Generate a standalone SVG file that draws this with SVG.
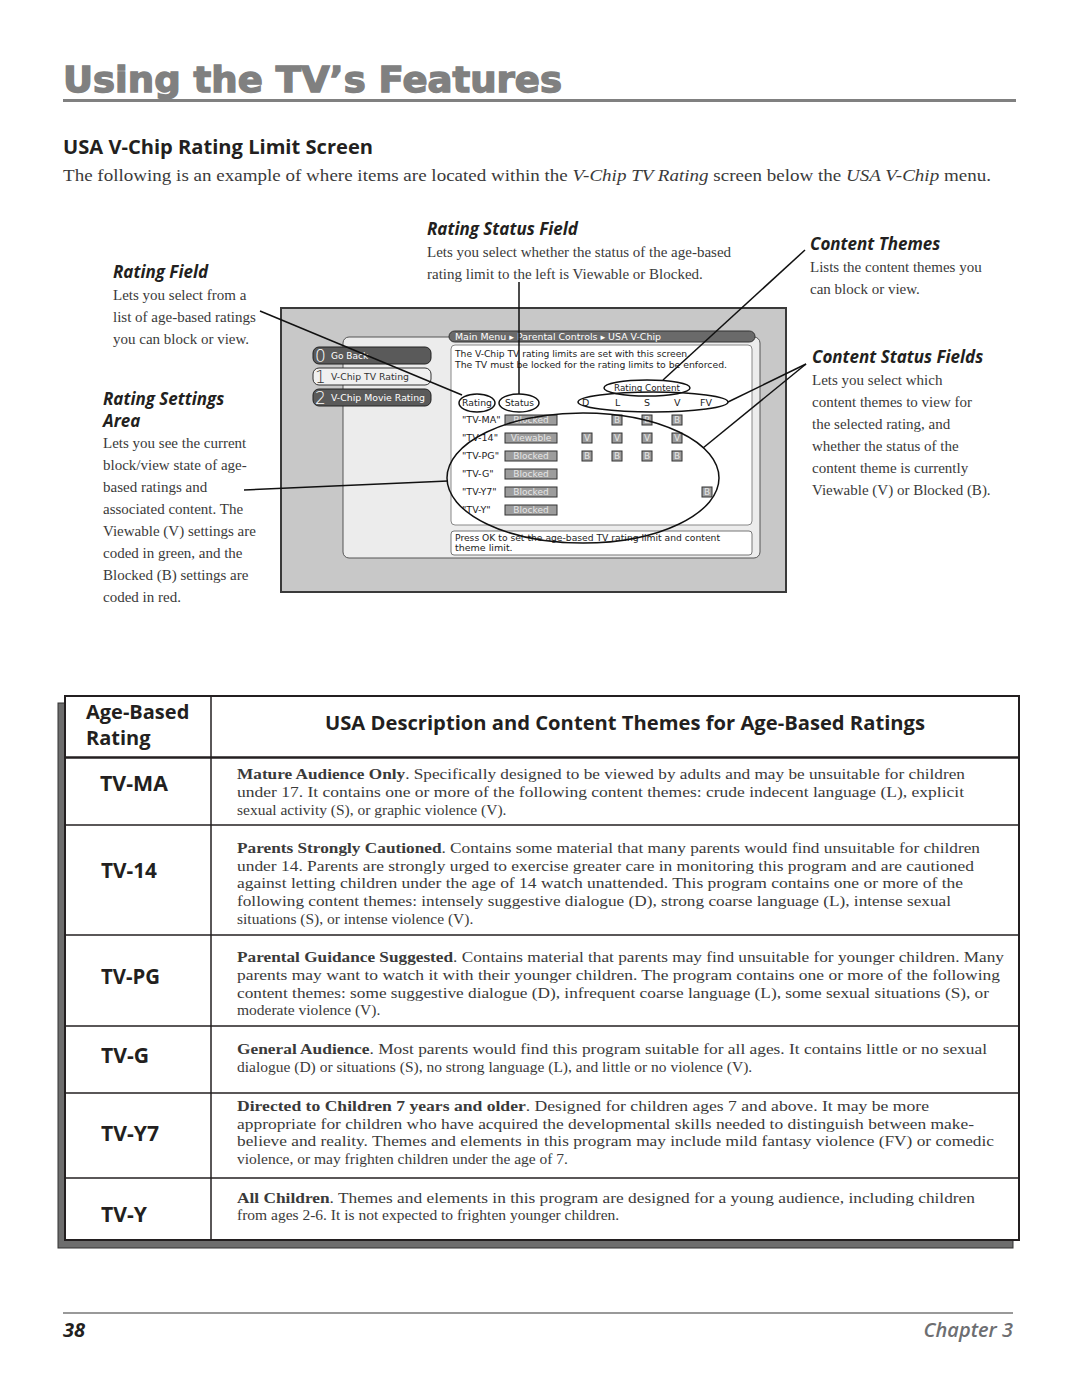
<svg xmlns="http://www.w3.org/2000/svg" width="1080" height="1397" viewBox="0 0 1080 1397">
<style>
.serif{font-family:"Liberation Serif","Times New Roman",serif;fill:#3a3a3a}
.ann{font-size:15px}
.annh{font-family:"Open Sans","Liberation Sans",sans-serif;font-weight:700;font-style:italic;font-size:17px;fill:#231f20}
.desc{font-size:15.5px}
.scr{font-family:"DejaVu Sans","Liberation Sans",sans-serif;font-size:9.5px;fill:#222}
.btn{font-family:"DejaVu Sans","Liberation Sans",sans-serif;font-size:9px;fill:#fff}
.dig{font-family:"DejaVu Sans","Liberation Sans",sans-serif;font-weight:300;font-size:17px;fill:#fff}
.st{fill:#9c9c9c;stroke:#333;stroke-width:1}
.stt{font-family:"DejaVu Sans","Liberation Sans",sans-serif;font-size:9px;fill:#e6e6e6;text-anchor:middle}
.cn{fill:none;stroke:#111;stroke-width:1.5}
.rl{font-family:"Open Sans","Liberation Sans",sans-serif;font-weight:700;font-size:21px;fill:#231f20}
.tl{stroke:#231f20;stroke-width:1.5}
</style>

<!-- Header -->
<g id="page-title">
<text x="63" y="92" font-family="DejaVu Sans, Liberation Sans, sans-serif" font-weight="700" font-size="36" fill="#808080" stroke="#808080" stroke-width="1.4" textLength="499" lengthAdjust="spacingAndGlyphs">Using the TV’s Features</text>
<line x1="63" y1="100.5" x2="1016" y2="100.5" stroke="#808080" stroke-width="3"/>
</g>
<g id="section-title">
<text x="63" y="154" font-family="Open Sans, Liberation Sans, sans-serif" font-weight="700" font-size="20" fill="#231f20" textLength="310" lengthAdjust="spacingAndGlyphs">USA V-Chip Rating Limit Screen</text>
<text x="63" y="181" class="serif" font-size="17" textLength="928" lengthAdjust="spacingAndGlyphs">The following is an example of where items are located within the <tspan font-style="italic">V-Chip TV Rating</tspan> screen below the <tspan font-style="italic">USA V-Chip</tspan> menu.</text>
</g>

<!-- Annotations -->
<g id="rating-field-label">
<text x="113" y="278" class="annh">Rating Field</text>
<text class="serif ann"><tspan x="113" y="300">Lets you select from a</tspan><tspan x="113" y="322">list of age-based ratings</tspan><tspan x="113" y="344">you can block or view.</tspan></text>
</g>
<g id="rating-settings-label">
<text x="103" y="405" class="annh">Rating Settings</text>
<text x="103" y="427" class="annh">Area</text>
<text class="serif ann"><tspan x="103" y="448">Lets you see the current</tspan><tspan x="103" y="470">block/view state of age-</tspan><tspan x="103" y="492">based ratings and</tspan><tspan x="103" y="514">associated content. The</tspan><tspan x="103" y="536">Viewable (V) settings are</tspan><tspan x="103" y="558">coded in green, and the</tspan><tspan x="103" y="580">Blocked (B) settings are</tspan><tspan x="103" y="602">coded in red.</tspan></text>
</g>
<g id="rating-status-field-label">
<text x="427" y="235" class="annh">Rating Status Field</text>
<text class="serif ann"><tspan x="427" y="257">Lets you select whether the status of the age-based</tspan><tspan x="427" y="279">rating limit to the left is Viewable or Blocked.</tspan></text>
</g>
<g id="content-themes-label">
<text x="810" y="250" class="annh">Content Themes</text>
<text class="serif ann"><tspan x="810" y="272">Lists the content themes you</tspan><tspan x="810" y="294">can block or view.</tspan></text>
</g>
<g id="content-status-fields-label">
<text x="812" y="363" class="annh">Content Status Fields</text>
<text class="serif ann"><tspan x="812" y="385">Lets you select which</tspan><tspan x="812" y="407">content themes to view for</tspan><tspan x="812" y="429">the selected rating, and</tspan><tspan x="812" y="451">whether the status of the</tspan><tspan x="812" y="473">content theme is currently</tspan><tspan x="812" y="495">Viewable (V) or Blocked (B).</tspan></text>
</g>

<!-- Screen -->
<g id="screen">
<rect x="281" y="308" width="505" height="284" fill="#c8c8c8" stroke="#3a3a3a" stroke-width="2"/>
<rect x="343" y="337" width="417" height="221" rx="6" fill="#ececec" stroke="#555" stroke-width="1"/>
<rect x="449" y="331" width="306" height="11" rx="5.5" fill="#6a6a6a" stroke="#333" stroke-width="1"/>
<text x="455" y="340" class="btn" textLength="206" lengthAdjust="spacingAndGlyphs">Main Menu ▸ Parental Controls ▸ USA V-Chip</text>
<rect x="451" y="345" width="301" height="180" rx="4" fill="#fff" stroke="#888" stroke-width="1"/>
<text x="455" y="357" class="scr" textLength="235" lengthAdjust="spacingAndGlyphs">The V-Chip TV rating limits are set with this screen.</text>
<text x="455" y="368" class="scr" textLength="272" lengthAdjust="spacingAndGlyphs">The TV must be locked for the rating limits to be enforced.</text>
<text x="614" y="391" class="scr" textLength="66" lengthAdjust="spacingAndGlyphs">Rating Content</text>
<text y="406" class="scr"><tspan x="462" textLength="30" lengthAdjust="spacingAndGlyphs">Rating</tspan><tspan x="505" textLength="29" lengthAdjust="spacingAndGlyphs">Status</tspan><tspan x="582">D</tspan><tspan x="615">L</tspan><tspan x="644">S</tspan><tspan x="674">V</tspan><tspan x="700">FV</tspan></text>
<rect x="451" y="531" width="301" height="24" rx="3" fill="#fff" stroke="#777" stroke-width="1"/>
<text x="455" y="541" class="scr" font-size="9" textLength="265" lengthAdjust="spacingAndGlyphs">Press OK to set the age-based TV rating limit and content</text>
<text x="455" y="551" class="scr" font-size="9">theme limit.</text>
</g>
<g id="menu-go-back">
<rect x="313" y="347" width="118" height="17" rx="6" fill="#5a5a5a" stroke="#222"/>
<text x="315" y="362" class="dig">0</text><text x="331" y="359" class="btn">Go Back</text>
</g>
<g id="menu-tv-rating">
<rect x="313" y="368" width="118" height="17" rx="6" fill="#f0f0f0" stroke="#333"/>
<text x="315" y="383" class="dig" style="fill:#333">1</text><text x="331" y="380" class="btn" style="fill:#333" textLength="78" lengthAdjust="spacingAndGlyphs">V-Chip TV Rating</text>
</g>
<g id="menu-movie-rating">
<rect x="313" y="389" width="118" height="17" rx="6" fill="#5a5a5a" stroke="#222"/>
<text x="315" y="404" class="dig">2</text><text x="331" y="401" class="btn" textLength="94" lengthAdjust="spacingAndGlyphs">V-Chip Movie Rating</text>
</g>
<g id="rating-rows">
<text class="scr"><tspan x="462" y="423">"TV-MA"</tspan><tspan x="462" y="441">"TV-14"</tspan><tspan x="462" y="459">"TV-PG"</tspan><tspan x="462" y="477">"TV-G"</tspan><tspan x="462" y="495">"TV-Y7"</tspan><tspan x="462" y="513">"TV-Y"</tspan></text>
<rect class="st" x="505" y="415" width="52" height="10"/><text class="stt" x="531" y="423">Blocked</text>
<rect class="st" x="505" y="433" width="52" height="10"/><text class="stt" x="531" y="441">Viewable</text>
<rect class="st" x="505" y="451" width="52" height="10"/><text class="stt" x="531" y="459">Blocked</text>
<rect class="st" x="505" y="469" width="52" height="10"/><text class="stt" x="531" y="477">Blocked</text>
<rect class="st" x="505" y="487" width="52" height="10"/><text class="stt" x="531" y="495">Blocked</text>
<rect class="st" x="505" y="505" width="52" height="10"/><text class="stt" x="531" y="513">Blocked</text>
<rect class="st" x="612" y="415" width="10" height="10"/><text class="stt" x="617" y="423">B</text>
<rect class="st" x="642" y="415" width="10" height="10"/><text class="stt" x="647" y="423">B</text>
<rect class="st" x="672" y="415" width="10" height="10"/><text class="stt" x="677" y="423">B</text>
<rect class="st" x="582" y="433" width="10" height="10"/><text class="stt" x="587" y="441">V</text>
<rect class="st" x="612" y="433" width="10" height="10"/><text class="stt" x="617" y="441">V</text>
<rect class="st" x="642" y="433" width="10" height="10"/><text class="stt" x="647" y="441">V</text>
<rect class="st" x="672" y="433" width="10" height="10"/><text class="stt" x="677" y="441">V</text>
<rect class="st" x="582" y="451" width="10" height="10"/><text class="stt" x="587" y="459">B</text>
<rect class="st" x="612" y="451" width="10" height="10"/><text class="stt" x="617" y="459">B</text>
<rect class="st" x="642" y="451" width="10" height="10"/><text class="stt" x="647" y="459">B</text>
<rect class="st" x="672" y="451" width="10" height="10"/><text class="stt" x="677" y="459">B</text>
<rect class="st" x="702" y="487" width="10" height="10"/><text class="stt" x="707" y="495">B</text>
</g>

<!-- Connectors and callout ellipses -->
<g id="connectors">
<ellipse class="cn" cx="477" cy="403" rx="18" ry="9"/>
<ellipse class="cn" cx="519" cy="403" rx="20" ry="9"/>
<ellipse class="cn" cx="647" cy="388" rx="43" ry="8"/>
<ellipse class="cn" cx="653" cy="402" rx="75" ry="10"/>
<ellipse class="cn" cx="583" cy="478" rx="136" ry="65"/>
<line class="cn" x1="260" y1="311" x2="462" y2="395"/>
<line class="cn" x1="519" y1="282" x2="519" y2="394"/>
<line class="cn" x1="805" y1="250" x2="663" y2="380"/>
<line class="cn" x1="806" y1="364" x2="728" y2="402"/>
<line class="cn" x1="806" y1="364" x2="703" y2="448"/>
<line class="cn" x1="244" y1="490" x2="448" y2="481"/>
</g>

<!-- Table -->
<g id="table">
<rect x="58" y="703" width="955" height="545" fill="#6d6d6d" stroke="#333" stroke-width="1"/>
<rect x="65" y="696" width="954" height="544" fill="#fff" stroke="#231f20" stroke-width="2"/>
<line class="tl" x1="211" y1="696" x2="211" y2="1240"/>
<line x1="65" y1="757.5" x2="1019" y2="757.5" stroke="#231f20" stroke-width="2.5"/>
<line class="tl" x1="65" y1="825" x2="1019" y2="825"/>
<line class="tl" x1="65" y1="935" x2="1019" y2="935"/>
<line class="tl" x1="65" y1="1026" x2="1019" y2="1026"/>
<line class="tl" x1="65" y1="1093" x2="1019" y2="1093"/>
<line class="tl" x1="65" y1="1178" x2="1019" y2="1178"/>
</g>
<g id="table-header">
<text font-family="Open Sans, Liberation Sans, sans-serif" font-weight="700" font-size="20" fill="#231f20"><tspan x="86" y="719">Age-Based</tspan><tspan x="86" y="745">Rating</tspan></text>
<text x="325" y="730" font-family="Open Sans, Liberation Sans, sans-serif" font-weight="700" font-size="20" fill="#231f20" textLength="600" lengthAdjust="spacingAndGlyphs">USA Description and Content Themes for Age-Based Ratings</text>
</g>
<g id="row-tv-ma">
<text x="100" y="791" class="rl" textLength="68" lengthAdjust="spacingAndGlyphs">TV-MA</text>
<text class="serif desc" x="237" y="779" textLength="728" lengthAdjust="spacingAndGlyphs"><tspan font-weight="700">Mature Audience Only</tspan>. Specifically designed to be viewed by adults and may be unsuitable for children</text>
<text class="serif desc" x="237" y="797" textLength="727" lengthAdjust="spacingAndGlyphs">under 17.  It contains one or more of the following content themes:  crude indecent language (L), explicit</text>
<text class="serif desc" x="237" y="815">sexual activity (S), or graphic violence (V).</text>
</g>
<g id="row-tv-14">
<text x="101" y="878" class="rl" textLength="56" lengthAdjust="spacingAndGlyphs">TV-14</text>
<text class="serif desc" x="237" y="853" textLength="743" lengthAdjust="spacingAndGlyphs"><tspan font-weight="700">Parents Strongly Cautioned</tspan>. Contains some material that many parents would find unsuitable for children</text>
<text class="serif desc" x="237" y="871" textLength="737" lengthAdjust="spacingAndGlyphs">under 14.  Parents are strongly urged to exercise greater care in monitoring this program and are cautioned</text>
<text class="serif desc" x="237" y="888" textLength="726" lengthAdjust="spacingAndGlyphs">against letting children under the age of 14 watch unattended.  This program contains one or more of the</text>
<text class="serif desc" x="237" y="906" textLength="714" lengthAdjust="spacingAndGlyphs">following content themes:  intensely suggestive dialogue (D), strong coarse language (L), intense sexual</text>
<text class="serif desc" x="237" y="924">situations (S), or intense violence (V).</text>
</g>
<g id="row-tv-pg">
<text x="101" y="984" class="rl" textLength="59" lengthAdjust="spacingAndGlyphs">TV-PG</text>
<text class="serif desc" x="237" y="962" textLength="767" lengthAdjust="spacingAndGlyphs"><tspan font-weight="700">Parental Guidance Suggested</tspan>. Contains material that parents may find unsuitable for younger children.  Many</text>
<text class="serif desc" x="237" y="980" textLength="763" lengthAdjust="spacingAndGlyphs">parents may want to watch it with their younger children.  The program contains one or more of the following</text>
<text class="serif desc" x="237" y="998" textLength="752" lengthAdjust="spacingAndGlyphs">content themes:  some suggestive dialogue (D), infrequent coarse language (L), some sexual situations (S), or</text>
<text class="serif desc" x="237" y="1015">moderate violence (V).</text>
</g>
<g id="row-tv-g">
<text x="101" y="1063" class="rl" textLength="48" lengthAdjust="spacingAndGlyphs">TV-G</text>
<text class="serif desc" x="237" y="1054" textLength="750" lengthAdjust="spacingAndGlyphs"><tspan font-weight="700">General Audience</tspan>. Most parents would find this program suitable for all ages.  It contains little or no sexual</text>
<text class="serif desc" x="237" y="1072">dialogue (D) or situations (S), no strong language (L), and little or no violence (V).</text>
</g>
<g id="row-tv-y7">
<text x="101" y="1141" class="rl" textLength="58" lengthAdjust="spacingAndGlyphs">TV-Y7</text>
<text class="serif desc" x="237" y="1111" textLength="692" lengthAdjust="spacingAndGlyphs"><tspan font-weight="700">Directed to Children 7 years and older</tspan>. Designed for children ages 7 and above.  It may be more</text>
<text class="serif desc" x="237" y="1129" textLength="737" lengthAdjust="spacingAndGlyphs">appropriate for children who have acquired the developmental skills needed to distinguish between make-</text>
<text class="serif desc" x="237" y="1146" textLength="757" lengthAdjust="spacingAndGlyphs">believe and reality.  Themes and elements in this program may include mild fantasy violence (FV) or comedic</text>
<text class="serif desc" x="237" y="1164">violence, or may frighten children under the age of 7.</text>
</g>
<g id="row-tv-y">
<text x="101" y="1222" class="rl" textLength="46" lengthAdjust="spacingAndGlyphs">TV-Y</text>
<text class="serif desc" x="237" y="1203" textLength="738" lengthAdjust="spacingAndGlyphs"><tspan font-weight="700">All Children</tspan>. Themes and elements in this program are designed for a young audience, including children</text>
<text class="serif desc" x="237" y="1220">from ages 2-6.  It is not expected to frighten younger children.</text>
</g>

<!-- Footer -->
<g id="footer">
<line x1="63" y1="1313" x2="1013" y2="1313" stroke="#999" stroke-width="2"/>
<text x="63" y="1337" font-family="Open Sans, Liberation Sans, sans-serif" font-weight="700" font-style="italic" font-size="20" fill="#231f20">38</text>
<text x="1013" y="1337" text-anchor="end" font-family="Open Sans, Liberation Sans, sans-serif" font-weight="600" font-style="italic" font-size="20" fill="#6d6e71">Chapter 3</text>
</g>
</svg>
